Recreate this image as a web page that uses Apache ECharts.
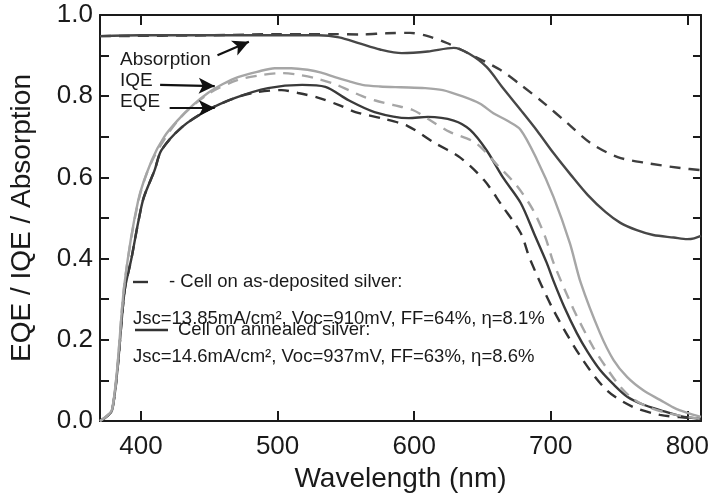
<!DOCTYPE html>
<html>
<head>
<meta charset="utf-8">
<script src="https://cdn.jsdelivr.net/npm/echarts@6/dist/echarts.min.js"></script>
<style>
html,body{margin:0;padding:0;background:#fff;}
#c{width:712px;height:501px;}
</style>
</head>
<body>
<div id="c"></div>
<script>
// Wavelength (nm) / value pairs
var absAnn = [[370,0.948],[400,0.950],[450,0.950],[500,0.950],[530,0.950],[545,0.945],[560,0.930],[575,0.915],[591,0.906],[610,0.910],[629,0.919],[640,0.905],[653,0.872],[665,0.820],[678,0.766],[690,0.715],[702,0.660],[715,0.605],[727,0.557],[740,0.515],[751,0.488],[763,0.470],[775,0.458],[790,0.452],[800,0.448],[805,0.450],[810,0.456]];
var absDep = [[370,0.948],[450,0.950],[500,0.953],[540,0.953],[560,0.952],[580,0.955],[597,0.956],[610,0.948],[624,0.931],[640,0.905],[663,0.865],[678,0.828],[695,0.783],[712,0.734],[729,0.685],[749,0.650],[771,0.635],[795,0.623],[810,0.618]];
var iqeAnn = [[370,0.0],[379,0.03],[388,0.34],[398,0.544],[408,0.643],[417,0.700],[427,0.741],[438,0.778],[449,0.808],[460,0.830],[471,0.847],[485,0.860],[498,0.869],[510,0.869],[522,0.865],[532,0.858],[542,0.847],[552,0.837],[562,0.828],[575,0.824],[590,0.822],[608,0.820],[621,0.815],[635,0.800],[648,0.782],[658,0.758],[668,0.740],[678,0.717],[690,0.643],[702,0.552],[714,0.438],[722,0.340],[736,0.217],[746,0.150],[756,0.108],[768,0.075],[780,0.052],[790,0.033],[800,0.020],[810,0.010]];
var iqeDep = [[370,0.0],[379,0.03],[388,0.34],[398,0.540],[408,0.640],[427,0.740],[449,0.805],[471,0.840],[490,0.853],[503,0.857],[515,0.853],[527,0.845],[540,0.832],[552,0.815],[562,0.800],[571,0.790],[585,0.778],[599,0.766],[612,0.740],[626,0.712],[645,0.685],[661,0.630],[675,0.580],[687,0.520],[696,0.453],[702,0.390],[717,0.273],[731,0.182],[741,0.130],[751,0.084],[760,0.055],[771,0.035],[785,0.020],[800,0.010],[810,0.005]];
var eqeAnn = [[370,0.0],[379,0.028],[388,0.32],[393,0.400],[398,0.490],[402,0.550],[410,0.618],[415,0.667],[430,0.724],[449,0.766],[469,0.796],[493,0.820],[518,0.828],[535,0.823],[552,0.790],[571,0.761],[596,0.746],[610,0.749],[629,0.740],[641,0.717],[653,0.667],[665,0.600],[678,0.537],[688,0.460],[697,0.390],[702,0.345],[710,0.280],[719,0.217],[727,0.170],[736,0.126],[746,0.090],[756,0.060],[768,0.040],[780,0.027],[795,0.012],[810,0.005]];
var eqeDep = [[370,0.0],[379,0.028],[388,0.32],[393,0.400],[398,0.490],[402,0.550],[410,0.618],[415,0.667],[430,0.724],[449,0.766],[469,0.796],[485,0.810],[503,0.815],[515,0.808],[530,0.796],[545,0.778],[557,0.761],[577,0.745],[595,0.727],[614,0.687],[634,0.648],[651,0.594],[664,0.532],[678,0.463],[685,0.397],[702,0.273],[722,0.158],[741,0.076],[760,0.035],[780,0.015],[800,0.008],[810,0.005]];
var xTicks = [400,500,600,700,800];
var arrows = [[[456,0.901],[479,0.934]],[[414,0.828],[454,0.825]],[[421,0.771],[454,0.771]]];

var FONT = "'Liberation Sans', Arial, Helvetica, sans-serif";
var AX = '#1a1a1a';
var chart = echarts.init(document.getElementById('c'));

function line(name, data, color, dashed, z){
  return {
    name: name, type: 'line', data: data, showSymbol: false, smooth: 0.3,
    xAxisIndex: 0, yAxisIndex: 0, z: z,
    lineStyle: {color: color, width: 2.4, type: dashed ? [11, 8] : 'solid'},
    silent: true, animation: false
  };
}

var series = [
  line('Abs dep', absDep, '#3e3e3e', true, 2),
  line('Abs ann', absAnn, '#474747', false, 2),
  line('EQE dep', eqeDep, '#333333', true, 2),
  line('EQE ann', eqeAnn, '#3a3a3a', false, 2),
  line('IQE dep', iqeDep, '#a6a6a6', true, 3),
  line('IQE ann', iqeAnn, '#a6a6a6', false, 3)
];
series[1].markLine = {
  silent: true, animation: false, symbol: ['none', 'arrow'], symbolSize: [12, 16],
  label: {show: false},
  lineStyle: {color: '#111', width: 2.2, type: 'solid'},
  data: arrows.map(function(a){ return [{coord: a[0]}, {coord: a[1]}]; })
};

var xBase = {
  type: 'value', min: 370, max: 810,
  axisLine: {show: true, onZero: false, lineStyle: {color: AX, width: 2}},
  splitLine: {show: false}
};
var yBase = {
  type: 'value', min: 0, max: 1, interval: 0.1,
  axisLine: {show: true, lineStyle: {color: AX, width: 2}},
  splitLine: {show: false}
};

chart.setOption({
  animation: false,
  backgroundColor: '#fff',
  grid: {left: 99, right: 11, top: 15, bottom: 80, containLabel: false},
  xAxis: [
    Object.assign({}, xBase, {
      position: 'bottom',
      name: 'Wavelength (nm)', nameLocation: 'middle', nameGap: 44,
      nameTextStyle: {fontFamily: FONT, fontSize: 28, color: AX},
      axisTick: {show: true, inside: true, length: 10, customValues: xTicks, lineStyle: {color: AX, width: 2}},
      axisLabel: {show: true, customValues: xTicks, margin: 13, fontFamily: FONT, fontSize: 26, color: AX}
    }),
    Object.assign({}, xBase, {
      position: 'top',
      axisTick: {show: true, inside: true, length: 10, customValues: xTicks, lineStyle: {color: AX, width: 2}},
      axisLabel: {show: false}
    })
  ],
  yAxis: [
    Object.assign({}, yBase, {
      position: 'left',
      name: 'EQE / IQE / Absorption', nameLocation: 'middle', nameGap: 64,
      nameTextStyle: {fontFamily: FONT, fontSize: 28, color: AX},
      axisTick: {show: true, inside: true, length: 9, lineStyle: {color: AX, width: 2}},
      axisLabel: {show: true, margin: 7, fontFamily: FONT, fontSize: 26, color: AX,
        formatter: function(v){ var k = Math.round(v * 10); return k % 2 === 0 ? (k / 10).toFixed(1) : ''; }}
    }),
    Object.assign({}, yBase, {
      position: 'right',
      axisTick: {show: true, inside: true, length: 8, lineStyle: {color: AX, width: 2}},
      axisLabel: {show: false}
    })
  ],
  series: series,
  graphic: [
    {type: 'text', left: 120, top: 50, style: {text: 'Absorption', font: '19px ' + FONT, fill: '#1a1a1a'}},
    {type: 'text', left: 120, top: 71, style: {text: 'IQE', font: '19px ' + FONT, fill: '#1a1a1a'}},
    {type: 'text', left: 120, top: 92, style: {text: 'EQE', font: '19px ' + FONT, fill: '#1a1a1a'}},
    {type: 'line', shape: {x1: 133, y1: 282, x2: 148, y2: 282}, style: {stroke: '#333', lineWidth: 2.4}},
    {type: 'text', left: 169, top: 272, style: {text: '- Cell on as-deposited silver:', font: '18.5px ' + FONT, fill: '#1a1a1a'}},
    {type: 'text', left: 133, top: 309, style: {text: 'Jsc=13.85mA/cm², Voc=910mV, FF=64%, η=8.1%', font: '18.5px ' + FONT, fill: '#1a1a1a'}},
    {type: 'line', shape: {x1: 135, y1: 330, x2: 168, y2: 330}, style: {stroke: '#333', lineWidth: 2.4}},
    {type: 'text', left: 178, top: 320, style: {text: 'Cell on annealed silver:', font: '18.5px ' + FONT, fill: '#1a1a1a'}},
    {type: 'text', left: 133, top: 347, style: {text: 'Jsc=14.6mA/cm², Voc=937mV, FF=63%, η=8.6%', font: '18.5px ' + FONT, fill: '#1a1a1a'}}
  ]
});
</script>
</body>
</html>
